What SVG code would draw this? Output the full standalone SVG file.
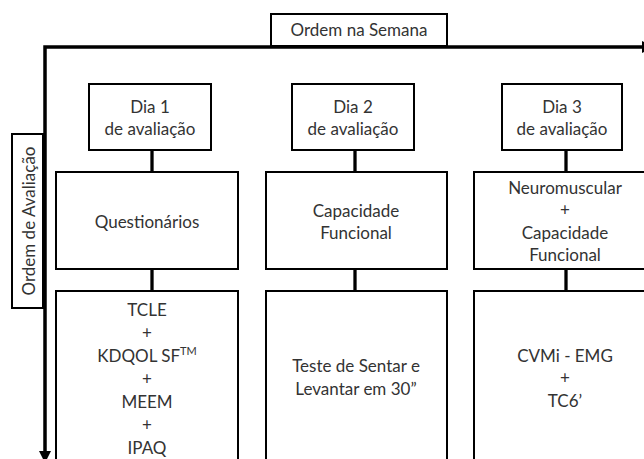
<svg xmlns="http://www.w3.org/2000/svg" width="644" height="459" viewBox="0 0 644 459">
<style>
.box{fill:#fff;stroke:#000;stroke-width:2}
.t{font-family:Lato,"Liberation Sans",sans-serif;font-size:17px;fill:#333;text-anchor:middle}
.axis{stroke:#000;stroke-width:3.5;fill:none}
.conn{stroke:#000;stroke-width:3.3}
</style>
<rect width="644" height="459" fill="#fff"/>
<g id="axes">
<path class="axis" d="M642,47 H45 V452"/>
<polygon points="642,41 642,53 653,47" fill="#000"/>
<polygon points="39,451 51,451 45,463" fill="#000"/>
</g>
<g id="ordem-semana">
<rect class="box" x="271" y="14" width="176" height="32"/>
<text class="t" x="359" y="36">Ordem na Semana</text>
</g>
<g id="ordem-avaliacao">
<rect class="box" x="12" y="134" width="31" height="174"/>
<text class="t" transform="translate(35,221) rotate(-90)">Ordem de Avaliação</text>
</g>
<g id="connectors">
<line class="conn" x1="152" y1="150" x2="152" y2="172"/>
<line class="conn" x1="152" y1="269" x2="152" y2="291"/>
<line class="conn" x1="355" y1="150" x2="355" y2="172"/>
<line class="conn" x1="355" y1="269" x2="355" y2="291"/>
<line class="conn" x1="566" y1="150" x2="566" y2="172"/>
<line class="conn" x1="566" y1="269" x2="566" y2="291"/>
</g>
<g id="dia1">
<rect class="box" x="89" y="84" width="122" height="66"/>
<text class="t" x="150" y="113">Dia 1</text>
<text class="t" x="150" y="135">de avaliação</text>
</g>
<g id="dia2">
<rect class="box" x="292" y="84" width="122" height="66"/>
<text class="t" x="353" y="113">Dia 2</text>
<text class="t" x="353" y="135">de avaliação</text>
</g>
<g id="dia3">
<rect class="box" x="502" y="84" width="120" height="66"/>
<text class="t" x="562" y="113">Dia 3</text>
<text class="t" x="562" y="135">de avaliação</text>
</g>
<g id="questionarios">
<rect class="box" x="56" y="172" width="182" height="97"/>
<text class="t" x="147" y="228">Questionários</text>
</g>
<g id="capacidade">
<rect class="box" x="266" y="172" width="181" height="97"/>
<text class="t" x="356" y="217">Capacidade</text>
<text class="t" x="356" y="239">Funcional</text>
</g>
<g id="neuromuscular">
<rect class="box" x="474" y="172" width="182" height="97"/>
<text class="t" x="565" y="193.5">Neuromuscular</text>
<text class="t" x="565" y="216">+</text>
<text class="t" x="565" y="238.5">Capacidade</text>
<text class="t" x="565" y="261">Funcional</text>
</g>
<g id="testes1">
<rect class="box" x="56" y="291" width="182" height="180"/>
<text class="t" x="147" y="316">TCLE</text>
<text class="t" x="147" y="339">+</text>
<text class="t" x="147" y="362">KDQOL SF<tspan font-size="11" dy="-7">TM</tspan></text>
<text class="t" x="147" y="385">+</text>
<text class="t" x="147" y="408">MEEM</text>
<text class="t" x="147" y="431">+</text>
<text class="t" x="147" y="454">IPAQ</text>
</g>
<g id="testes2">
<rect class="box" x="266" y="291" width="181" height="180"/>
<text class="t" x="356" y="372">Teste de Sentar e</text>
<text class="t" x="356" y="395">Levantar em 30”</text>
</g>
<g id="testes3">
<rect class="box" x="474" y="291" width="182" height="180"/>
<text class="t" x="565" y="362">CVMi - EMG</text>
<text class="t" x="565" y="384">+</text>
<text class="t" x="565" y="407">TC6’</text>
</g>
</svg>
